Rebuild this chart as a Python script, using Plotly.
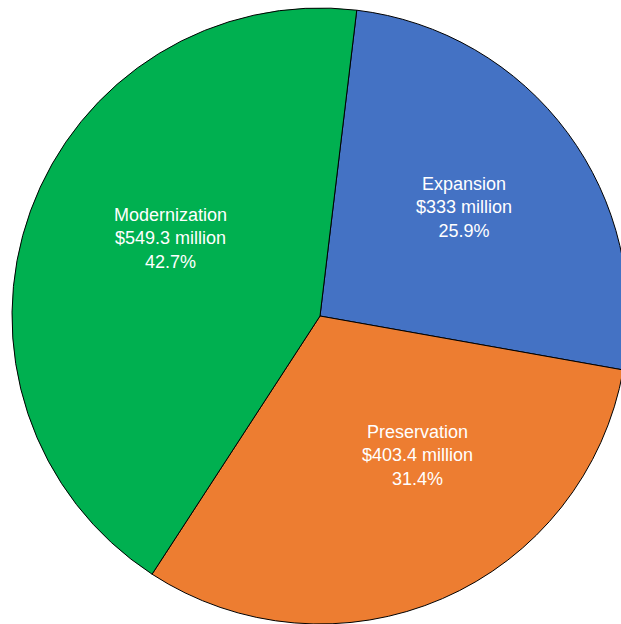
import plotly.graph_objects as go

labels = ["Expansion", "Preservation", "Modernization"]
amounts = [333, 403.4, 549.3]
amount_text = ["$333 million", "$403.4 million", "$549.3 million"]
pct_text = ["25.9%", "31.4%", "42.7%"]
colors = ["#4472C4", "#ED7D31", "#00B050"]

# where the labels sit in the picture (pixels from top-left)
label_px = [(464, 208), (417, 455), (170, 239)]

W, H = 640, 624


def main():
    fig = go.Figure(
        go.Pie(
            labels=labels,
            values=amounts,
            textinfo="none",
            sort=False,
            direction="clockwise",
            rotation=6.85,
            domain=dict(x=[12 / W, 628 / W], y=[0, 616 / H]),
            marker=dict(colors=colors, line=dict(color="black", width=1)),
            hoverinfo="label+value+percent",
        )
    )
    for lab, amt, pct, (px, py) in zip(labels, amount_text, pct_text, label_px):
        fig.add_annotation(
            x=px / W, y=1 - py / H, xref="paper", yref="paper",
            text="{}<br>{}<br>{}".format(lab, amt, pct),
            showarrow=False, align="center",
            xanchor="center", yanchor="middle",
            font=dict(family="Liberation Sans, Arial", size=18, color="white"),
        )
    fig.update_layout(
        width=W,
        height=H,
        margin=dict(l=0, r=0, t=0, b=0),
        showlegend=False,
        paper_bgcolor="white",
    )
    # drop the page margin and scrollbars so the pie bleeds off the right edge like the original
    fig.write_html(
        "out.html",
        config={"displayModeBar": False},
        post_script="document.body.style.margin='0';"
                    "document.body.style.overflow='hidden';"
                    "document.documentElement.style.overflow='hidden';",
    )


if __name__ == '__main__':
    main()
